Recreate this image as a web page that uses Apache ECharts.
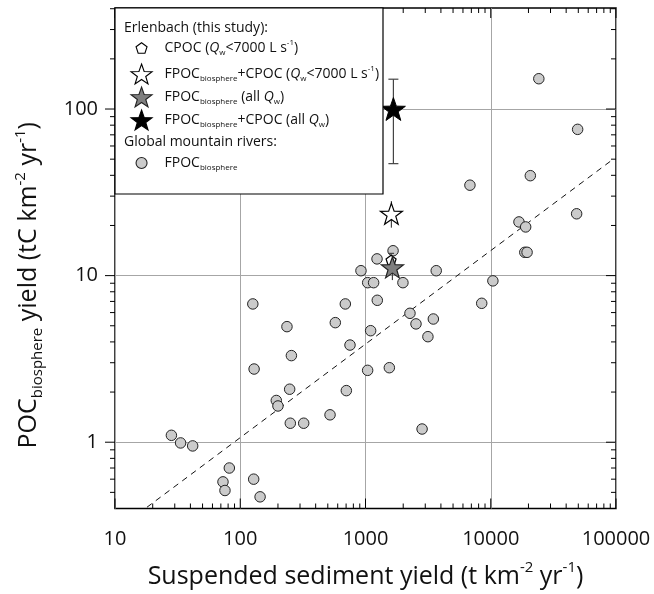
<!DOCTYPE html>
<html>
<head>
<meta charset="utf-8">
<script src="https://cdn.jsdelivr.net/npm/echarts@6/dist/echarts.min.js"></script>
<style>
  html, body { margin: 0; padding: 0; background: #fff; }
  #chart { width: 654px; height: 594px; }
</style>
</head>
<body>
<div id="chart"></div>
<script>
// global mountain rivers: [suspended sediment yield, FPOC biosphere yield]
const globalRivers = [
  [24200, 152], [49400, 75.5], [20700, 39.8], [6820, 34.9], [48500, 23.5],
  [16800, 21.0], [19000, 19.6], [18700, 13.8], [19500, 13.8], [10400, 9.3],
  [3670, 10.7], [1990, 9.07], [1236, 12.6], [920, 10.7], [1041, 9.07],
  [1161, 9.07], [1660, 14.1], [126, 6.76], [690, 6.76], [236, 4.94],
  [574, 5.22], [752, 3.83], [256, 3.31], [129, 2.75], [1040, 2.70],
  [248, 2.08], [703, 2.04], [194, 1.78], [200, 1.65], [251, 1.30],
  [321, 1.30], [521, 1.46], [28.2, 1.10], [33.4, 0.99], [41.7, 0.95],
  [81.8, 0.70], [72.8, 0.578], [75.5, 0.513], [128, 0.60], [144, 0.47],
  [1242, 7.11], [1099, 4.67], [2265, 5.94], [2530, 5.13], [3480, 5.49],
  [3150, 4.30], [8470, 6.82], [1550, 2.80], [2830, 1.20]
];
// Erlenbach (this study)
const cpoc = [[1600, 12.4]];
const fpocCpocLow = [[1610, 23.5]];
const fpocAll = [[1640, 11.2]];
const fpocCpocAll = [[1670, 100]];
// [x, low, high, cap half width]
const errorBars = [[1670, 47, 151, 5], [1610, 19.4, 28, 0], [1640, 9.4, 13, 0], [1600, 11.5, 13.6, 3]];
const trendLine = [[18, 0.407], [95000, 50]];

const xMin = 10, xMax = 100000, yMin = 0.4, yMax = 404;
const xMajor = [10, 100, 1000, 10000, 100000];
const xMinor = [20, 30, 40, 50, 60, 70, 80, 90, 200, 300, 400, 500, 600, 700, 800, 900,
  2000, 3000, 4000, 5000, 6000, 7000, 8000, 9000, 20000, 30000, 40000, 50000, 60000, 70000, 80000, 90000];
const yMajor = [1, 10, 100];
const yMinor = [0.5, 0.6, 0.7, 0.8, 0.9, 2, 3, 4, 5, 6, 7, 8, 9, 20, 30, 40, 50, 60, 70, 80, 90, 200, 300, 400];

const font = 'Open Sans';
const star = 'path://M50,0L61.8,33.8L97.6,34.5L69,56.2L79.4,90.5L50,70L20.6,90.5L31,56.2L2.4,34.5L38.2,33.8Z';
const pentagon = 'path://M50,0L97.6,34.5L79.4,90.5L20.6,90.5L2.4,34.5Z';

// tick marks as small rects: x ticks inward at bottom and top, y ticks outward left and inward right
const xTick = (v, len) => [
  { value: [v, yMin], symbolSize: [1, len], symbolOffset: [0, -len / 2] },
  { value: [v, yMax], symbolSize: [1, len], symbolOffset: [0, len / 2] }
];
const yTick = (v, len) => [
  { value: [xMin, v], symbolSize: [len, 1], symbolOffset: [-len / 2, 0] },
  { value: [xMax, v], symbolSize: [len, 1], symbolOffset: [-len / 2, 0] }
];
const tickData = [].concat(
  ...xMajor.map(v => xTick(v, 10)),
  ...xMinor.map(v => xTick(v, 5)),
  ...yMajor.map(v => yTick(v, 10)),
  ...yMinor.map(v => yTick(v, 5))
);

const chart = echarts.init(document.getElementById('chart'));

const nameRich = {
  n: { fontSize: 25, fontFamily: font, color: '#111', lineHeight: 32 },
  b: { fontSize: 15, fontFamily: font, color: '#111', lineHeight: 14, verticalAlign: 'bottom' },
  p: { fontSize: 15, fontFamily: font, color: '#111', lineHeight: 13, verticalAlign: 'top' }
};
const legRich = {
  n: { fontSize: 14, fontFamily: font, color: '#111', lineHeight: 18 },
  i: { fontSize: 14, fontFamily: font, fontStyle: 'italic', color: '#111', lineHeight: 18 },
  b: { fontSize: 8, fontFamily: font, color: '#111', lineHeight: 6, verticalAlign: 'bottom' },
  p: { fontSize: 8, fontFamily: font, color: '#111', lineHeight: 8, verticalAlign: 'top' }
};

const fmtPow = v => {
  const e = Math.log10(v);
  return Math.abs(e - Math.round(e)) < 1e-6 ? String(Math.round(v)) : '';
};

const legendItems = [
  { name: 'CPOC (Qw<7000)', size: 11, y: 48,
    label: '{n|CPOC (}{i|Q}{b|w}{n|<7000 L s}{p|-1}{n|)}' },
  { name: 'FPOC+CPOC (Qw<7000)', size: 21, y: 74,
    label: '{n|FPOC}{b|biosphere}{n|+CPOC (}{i|Q}{b|w}{n|<7000 L s}{p|-1}{n|)}' },
  { name: 'FPOC (all Qw)', size: 21, y: 97,
    label: '{n|FPOC}{b|biosphere}{n| (all }{i|Q}{b|w}{n|)}' },
  { name: 'FPOC+CPOC (all Qw)', size: 21, y: 120,
    label: '{n|FPOC}{b|biosphere}{n|+CPOC (all }{i|Q}{b|w}{n|)}' },
  { name: 'FPOC global', size: 11, y: 165,
    label: '{n|FPOC}{b|biosphere}' }
];

const legends = legendItems.map(it => ({
  data: [it.name],
  left: 141 - it.size / 2,
  top: it.y - Math.max(it.size, 18) / 2,
  itemWidth: it.size,
  itemHeight: it.size,
  padding: 0,
  z: 10,
  selectedMode: false,
  itemStyle: { borderWidth: 1.1 },
  formatter: () => it.label,
  textStyle: { rich: legRich, padding: [0, 0, 0, 18 - it.size / 2] }
}));

const option = {
  animation: false,
  grid: { left: 115, right: 38, top: 8, bottom: 85, containLabel: false,
    show: true, borderColor: '#000', borderWidth: 1.5, backgroundColor: 'transparent' },
  xAxis: {
    type: 'log', min: xMin, max: xMax,
    axisLine: { show: false },
    axisTick: { show: false },
    axisLabel: { customValues: xMajor, formatter: fmtPow, margin: 21, fontSize: 20, fontFamily: font, color: '#111' },
    splitLine: { show: true, lineStyle: { color: '#a6a6a6', width: 1 } },
    name: '{n|Suspended sediment yield (t km}{p|-2}{n| yr}{p|-1}{n|)}',
    nameLocation: 'middle', nameGap: 52, nameTextStyle: { rich: nameRich }
  },
  yAxis: {
    type: 'log', min: yMin, max: yMax,
    axisLine: { show: false },
    axisTick: { show: false, customValues: yMajor },
    axisLabel: { customValues: yMajor, formatter: fmtPow, margin: 17, fontSize: 20, fontFamily: font, color: '#111' },
    splitLine: { show: true, lineStyle: { color: '#a6a6a6', width: 1 } },
    name: '{n|POC}{b|biosphere}{n| yield (tC km}{p|-2}{n| yr}{p|-1}{n|)}',
    nameLocation: 'middle', nameGap: 70, nameTextStyle: { rich: nameRich, padding: [0, 54, 0, 0] }
  },
  legend: legends,
  graphic: [
    { type: 'rect', shape: { x: 115, y: 8, width: 268, height: 186 },
      style: { fill: '#fff', stroke: '#000', lineWidth: 1.2 }, z: 5 },
    { type: 'text', left: 124, top: 21, z: 6,
      style: { text: 'Erlenbach (this study):', font: '14px "Open Sans"', fill: '#111' } },
    { type: 'text', left: 124, top: 135, z: 6,
      style: { text: 'Global mountain rivers:', font: '14px "Open Sans"', fill: '#111' } }
  ],
  series: [
    {
      name: 'ticks', type: 'scatter', data: tickData, symbol: 'rect', clip: false, silent: true, z: 3,
      itemStyle: { color: '#000', opacity: 1 }
    },
    {
      name: 'trend', type: 'line', data: trendLine, symbol: 'none', z: 1, silent: true,
      lineStyle: { color: '#111', width: 1, type: [6, 5] }
    },
    {
      name: 'FPOC global', type: 'scatter', data: globalRivers, symbol: 'circle', symbolSize: 10.5, z: 2,
      itemStyle: { color: '#cbcbcb', borderColor: '#222', borderWidth: 1, opacity: 1 }
    },
    {
      name: 'errors', type: 'custom', data: errorBars, z: 3, silent: true,
      renderItem: (params, api) => {
        const x = api.value(0);
        const top = api.coord([x, api.value(2)]);
        const bot = api.coord([x, api.value(1)]);
        const w = api.value(3);
        const st = { stroke: '#444', lineWidth: 1.2 };
        const kids = [{ type: 'line', shape: { x1: top[0], y1: top[1], x2: bot[0], y2: bot[1] }, style: st }];
        if (w > 0) {
          kids.push({ type: 'line', shape: { x1: top[0] - w, y1: top[1], x2: top[0] + w, y2: top[1] }, style: st });
          kids.push({ type: 'line', shape: { x1: bot[0] - w, y1: bot[1], x2: bot[0] + w, y2: bot[1] }, style: st });
        }
        return { type: 'group', children: kids };
      }
    },
    {
      name: 'CPOC (Qw<7000)', type: 'scatter', data: cpoc, symbol: pentagon, symbolSize: 10, symbolKeepAspect: true, z: 4,
      itemStyle: { color: '#fff', borderColor: '#000', borderWidth: 1.2, opacity: 1 }
    },
    {
      name: 'FPOC+CPOC (Qw<7000)', type: 'scatter', data: fpocCpocLow, symbol: star, symbolSize: 22, symbolKeepAspect: true, z: 4,
      itemStyle: { color: '#fff', borderColor: '#000', borderWidth: 1.2, opacity: 1 }
    },
    {
      name: 'FPOC (all Qw)', type: 'scatter', data: fpocAll, symbol: star, symbolSize: 22, symbolKeepAspect: true, z: 4,
      itemStyle: { color: '#7f7f7f', borderColor: '#222', borderWidth: 1.2, opacity: 1 }
    },
    {
      name: 'FPOC+CPOC (all Qw)', type: 'scatter', data: fpocCpocAll, symbol: star, symbolSize: 24, symbolKeepAspect: true, z: 4,
      itemStyle: { color: '#000', borderColor: '#000', borderWidth: 1, opacity: 1 }
    }
  ]
};

chart.setOption(option);
window.addEventListener('resize', () => chart.resize());
</script>
</body>
</html>
